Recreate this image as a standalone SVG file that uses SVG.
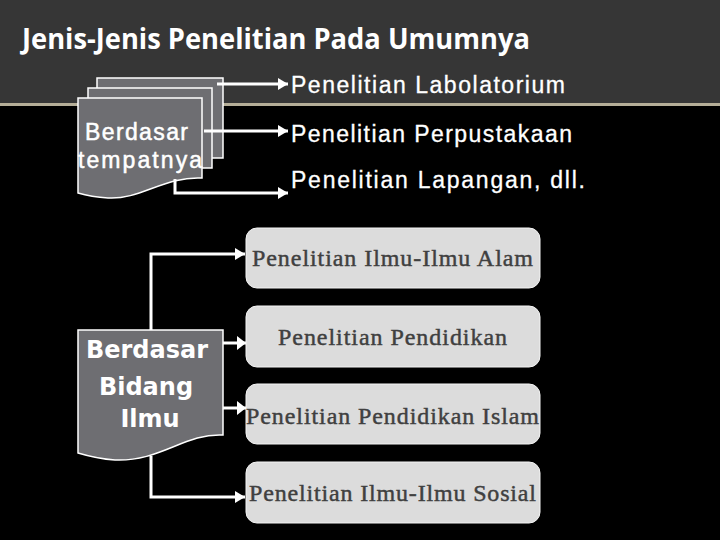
<svg xmlns="http://www.w3.org/2000/svg" width="720" height="540" viewBox="0 0 720 540">
  <defs>
    <style>
      .sheet { fill: #6e6e72; stroke: #ffffff; stroke-width: 1.5; }
      .conn { fill: none; stroke: #ffffff; stroke-width: 3; }
      .box { fill: #dcdcdc; stroke: #f4f4f4; stroke-width: 1; }
      .wt { font-family: "Liberation Sans", Arial, sans-serif; font-size: 23px; fill: #ffffff; stroke: #ffffff; stroke-width: 0.3; }
      .bt { font-family: "Liberation Serif", "Times New Roman", serif; font-size: 24px; fill: #404040; stroke: #404040; stroke-width: 0.45; }
      .dt { font-family: "DejaVu Sans", Verdana, sans-serif; font-size: 24px; font-weight: bold; fill: #ffffff; text-anchor: middle; }
      .st { font-family: "Liberation Sans", Arial, sans-serif; font-size: 23px; fill: #ffffff; stroke: #ffffff; stroke-width: 0.5; }
    </style>
    <marker id="ah" markerUnits="userSpaceOnUse" markerWidth="11" markerHeight="13" refX="10" refY="6" orient="auto">
      <path d="M0,0 L10,6 L0,12 Z" fill="#ffffff"/>
    </marker>
    <marker id="ah2" markerUnits="userSpaceOnUse" markerWidth="10" markerHeight="15" refX="9" refY="7" orient="auto">
      <path d="M0,0 L9,7 L0,14 Z" fill="#ffffff"/>
    </marker>
  </defs>

  <rect x="0" y="0" width="720" height="540" fill="#000000"/>
  <rect x="0" y="0" width="720" height="103" fill="#363636"/>
  <rect x="0" y="103" width="720" height="3" fill="#b5ae98"/>

  <text x="22" y="49" font-family="'Open Sans', 'Liberation Sans', sans-serif" font-size="28" font-weight="bold" fill="#ffffff" textLength="508" lengthAdjust="spacingAndGlyphs">Jenis-Jenis Penelitian Pada Umumnya</text>

  <g id="node-tempat">
    <rect class="sheet" x="97" y="78" width="126" height="80"/>
    <rect class="sheet" x="88" y="88" width="124" height="80"/>
    <path class="sheet" d="M78,98 H202 V178 C165,176 140,200 108,198 C94,197 85,195 78,193 Z"/>
    <text class="st" x="85" y="140" textLength="103" lengthAdjust="spacing">Berdasar</text>
    <text class="st" x="78" y="168" textLength="124" lengthAdjust="spacing">tempatnya</text>
  </g>

  <g id="node-bidang">
    <path class="sheet" d="M78,330 H223 V435 C185,433 160,462 115,460 C100,459 88,456 78,453 Z"/>
    <text class="dt" x="147" y="358">Berdasar</text>
    <text class="dt" x="146" y="395">Bidang</text>
    <text class="dt" x="150" y="427">Ilmu</text>
  </g>

  <g id="connectors">
    <path class="conn" d="M217,84 H288" marker-end="url(#ah)"/>
    <path class="conn" d="M204,131 H288" marker-end="url(#ah)"/>
    <path class="conn" d="M175,179 V193 H288" marker-end="url(#ah)"/>
    <path class="conn" d="M151,330 V254 H245" stroke-width="2.5" marker-end="url(#ah)"/>
    <path class="conn" d="M223,343 H246" stroke-width="4" marker-end="url(#ah2)"/>
    <path class="conn" d="M223,408 H246" stroke-width="4" marker-end="url(#ah2)"/>
    <path class="conn" d="M151,456 V497 H245" stroke-width="2.5" marker-end="url(#ah)"/>
  </g>

  <g id="node-lab">
    <text class="wt" x="291" y="93" textLength="274" lengthAdjust="spacing">Penelitian Labolatorium</text>
  </g>
  <g id="node-pustaka">
    <text class="wt" x="291" y="142" textLength="281" lengthAdjust="spacing">Penelitian Perpustakaan</text>
  </g>
  <g id="node-lapangan">
    <text class="wt" x="291" y="188" textLength="294" lengthAdjust="spacing">Penelitian Lapangan, dll.</text>
  </g>

  <g id="node-alam">
    <rect class="box" x="246" y="228" width="294" height="60" rx="11"/>
    <text class="bt" x="252" y="266" textLength="281" lengthAdjust="spacing">Penelitian Ilmu-Ilmu Alam</text>
  </g>
  <g id="node-pendidikan">
    <rect class="box" x="246" y="306" width="294" height="61" rx="11"/>
    <text class="bt" x="278" y="345" textLength="229" lengthAdjust="spacing">Penelitian Pendidikan</text>
  </g>
  <g id="node-islam">
    <rect class="box" x="246" y="384" width="294" height="60" rx="11"/>
    <text class="bt" x="246" y="424" textLength="293" lengthAdjust="spacing">Penelitian Pendidikan Islam</text>
  </g>
  <g id="node-sosial">
    <rect class="box" x="246" y="462" width="294" height="61" rx="11"/>
    <text class="bt" x="249" y="501" textLength="287" lengthAdjust="spacing">Penelitian Ilmu-Ilmu Sosial</text>
  </g>
</svg>
